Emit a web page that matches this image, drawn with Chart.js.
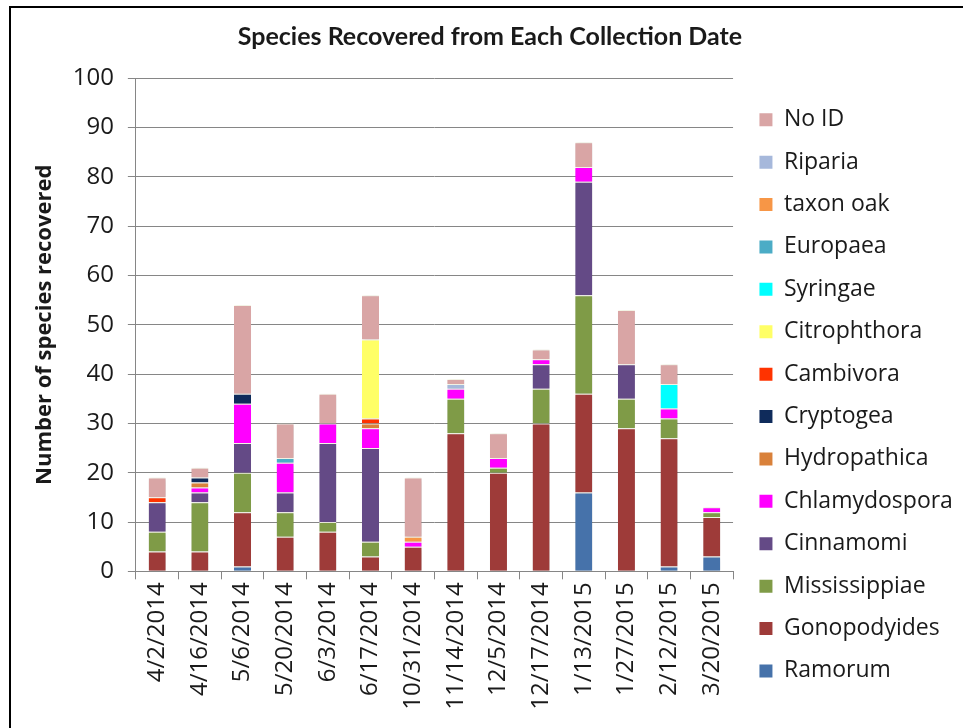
<!DOCTYPE html>
<html>
<head>
<meta charset="utf-8">
<title>Species Recovered from Each Collection Date</title>
<script src="https://cdn.jsdelivr.net/npm/chart.js@4/dist/chart.umd.min.js"></script>
<style>
  html, body { margin: 0; padding: 0; background: #fff; }
  canvas { display: block; }
</style>
</head>
<body>
<canvas id="chart" width="963" height="728"></canvas>
<script>
// Collection dates (x categories)
const dates = ['4/2/2014', '4/16/2014', '5/6/2014', '5/20/2014', '6/3/2014', '6/17/2014',
  '10/31/2014', '11/14/2014', '12/5/2014', '12/17/2014', '1/13/2015', '1/27/2015',
  '2/12/2015', '3/20/2015'];

// Number of isolates recovered per species, one value per collection date
const ramorum       = [0, 0, 1, 0, 0, 0, 0, 0, 0, 0, 16, 0, 1, 3];
const gonopodyides  = [4, 4, 11, 7, 8, 3, 5, 28, 20, 30, 20, 29, 26, 8];
const mississippiae = [4, 10, 8, 5, 2, 3, 0, 7, 1, 7, 20, 6, 4, 1];
const cinnamomi     = [6, 2, 6, 4, 16, 19, 0, 0, 0, 5, 23, 7, 0, 0];
const chlamydospora = [0, 1, 8, 6, 4, 4, 1, 2, 2, 1, 3, 0, 2, 1];
const hydropathica  = [0, 1, 0, 0, 0, 1, 0, 0, 0, 0, 0, 0, 0, 0];
const cryptogea     = [0, 1, 2, 0, 0, 0, 0, 0, 0, 0, 0, 0, 0, 0];
const cambivora     = [1, 0, 0, 0, 0, 1, 0, 0, 0, 0, 0, 0, 0, 0];
const citrophthora  = [0, 0, 0, 0, 0, 16, 0, 0, 0, 0, 0, 0, 0, 0];
const syringae      = [0, 0, 0, 0, 0, 0, 0, 0, 0, 0, 0, 0, 5, 0];
const europaea      = [0, 0, 0, 1, 0, 0, 0, 0, 0, 0, 0, 0, 0, 0];
const taxonOak      = [0, 0, 0, 0, 0, 0, 1, 0, 0, 0, 0, 0, 0, 0];
const riparia       = [0, 0, 0, 0, 0, 0, 0, 1, 0, 0, 0, 0, 0, 0];
const noId          = [4, 2, 18, 7, 6, 9, 12, 1, 5, 2, 5, 11, 4, 0];

// Y axis range and step
const yMin = 0, yMax = 100, yStep = 10;

// Series, bottom of the stack first
const series = [
  { label: 'Ramorum',       data: ramorum,       color: '#4672AA' },
  { label: 'Gonopodyides',  data: gonopodyides,  color: '#9E3B39' },
  { label: 'Mississippiae', data: mississippiae, color: '#7F9B47' },
  { label: 'Cinnamomi',     data: cinnamomi,     color: '#644A86' },
  { label: 'Chlamydospora', data: chlamydospora, color: '#FF00FF' },
  { label: 'Hydropathica',  data: hydropathica,  color: '#D9813A' },
  { label: 'Cryptogea',     data: cryptogea,     color: '#0F2B5B' },
  { label: 'Cambivora',     data: cambivora,     color: '#FF3300' },
  { label: 'Citrophthora',  data: citrophthora,  color: '#FFFF66' },
  { label: 'Syringae',      data: syringae,      color: '#00FFFF' },
  { label: 'Europaea',      data: europaea,      color: '#4BACC6' },
  { label: 'taxon oak',     data: taxonOak,      color: '#F79646' },
  { label: 'Riparia',       data: riparia,       color: '#A6B8DB' },
  { label: 'No ID',         data: noId,          color: '#D9A5A5' }
];

const GRID = '#868686';
const TEXT = '#1a1a1a';

// White page, soft shadow under the bars, frame lines, and small
// position nudges for the title and legend blocks after layout
const pagePlugin = {
  id: 'page',
  afterLayout(chart) {
    const t = chart.titleBlock;
    if (t) { t.left += 6; t.right += 6; }
    const lg = chart.legend;
    if (lg) { lg.left += 7; lg.right += 7; lg.top += 39; lg.bottom += 39; }
  },
  beforeDraw(chart) {
    const ctx = chart.ctx;
    ctx.save();
    ctx.fillStyle = '#ffffff';
    ctx.fillRect(0, 0, chart.width, chart.height);
    ctx.restore();
  },
  beforeDatasetsDraw(chart) {
    const ctx = chart.ctx;
    ctx.save();
    ctx.shadowColor = 'rgba(0,0,0,0.22)';
    ctx.shadowBlur = 4;
    ctx.shadowOffsetX = 1;
    ctx.shadowOffsetY = 1;
  },
  afterDatasetsDraw(chart) {
    chart.ctx.restore();
  },
  afterDraw(chart) {
    const ctx = chart.ctx;
    ctx.save();
    ctx.fillStyle = '#000';
    ctx.fillRect(9, 6, chart.width - 9, 2);
    ctx.fillRect(9, 6, 2, chart.height - 6);
    ctx.restore();
  }
};

new Chart(document.getElementById('chart'), {
  type: 'bar',
  data: {
    labels: dates,
    datasets: series.map(s => ({
      label: s.label,
      data: s.data,
      backgroundColor: s.color,
      borderColor: 'rgba(255,255,240,0.9)',
      borderWidth: { top: 1, right: 0, bottom: 0, left: 0 },
      borderSkipped: false,
      categoryPercentage: 1.0,
      barPercentage: 0.4
    }))
  },
  options: {
    responsive: false,
    animation: false,
    devicePixelRatio: 1,
    layout: { padding: { left: 12, right: 7.1, top: 0, bottom: 15.3 } },
    plugins: {
      title: {
        display: true,
        text: 'Species Recovered from Each Collection Date',
        color: TEXT,
        font: { family: 'Lato', weight: 'bold', size: 25, lineHeight: 1.2 },
        padding: { top: 22, bottom: 26.2 }
      },
      legend: {
        display: true,
        position: 'right',
        align: 'center',
        reverse: true,
        labels: {
          color: TEXT,
          boxWidth: 13,
          boxHeight: 13,
          padding: 19.4,
          font: { family: 'Open Sans', size: 23 },
          generateLabels(chart) {
            return Chart.defaults.plugins.legend.labels.generateLabels(chart)
              .map(l => Object.assign(l, { lineWidth: 0, strokeStyle: l.fillStyle }));
          }
        }
      },
      tooltip: { enabled: false }
    },
    scales: {
      x: {
        stacked: true,
        offset: true,
        grid: {
          display: true,
          drawOnChartArea: false,
          drawTicks: true,
          tickLength: 8,
          color: GRID,
          offset: true
        },
        border: { display: true, color: GRID },
        ticks: {
          color: TEXT,
          minRotation: 90,
          maxRotation: 90,
          autoSkip: false,
          padding: 3,
          font: { family: 'Open Sans', size: 24 }
        }
      },
      y: {
        stacked: true,
        min: yMin,
        max: yMax,
        grid: {
          color: GRID,
          tickLength: 8,
          drawTicks: true
        },
        border: { display: true, color: GRID },
        ticks: {
          stepSize: yStep,
          color: TEXT,
          padding: 14,
          font: { family: 'Open Sans', size: 24 }
        },
        title: {
          display: true,
          text: 'Number of species recovered',
          color: TEXT,
          font: { family: 'Open Sans', weight: 'bold', size: 22, lineHeight: 1.2 },
          padding: { top: 19.8, bottom: 0.5 }
        }
      }
    }
  },
  plugins: [pagePlugin]
});
</script>
</body>
</html>
